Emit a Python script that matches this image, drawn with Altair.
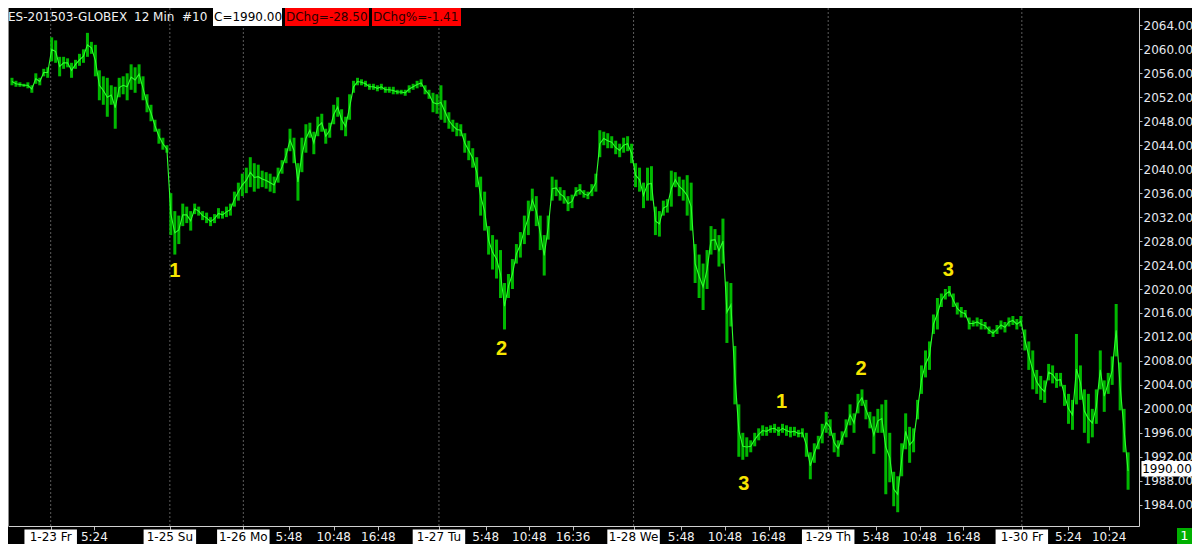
import altair as alt
import pandas as pd

high = [2055.25, 2054.75, 2054.5, 2054.25, 2054.5, 2054.0, 2056.0, 2055.25, 2056.75, 2057.0,
        2062.0, 2061.5, 2058.75, 2058.75, 2058.5, 2057.75, 2058.25, 2059.25, 2060.0, 2062.75,
        2061.25, 2060.75, 2056.5, 2055.5, 2055.25, 2054.0, 2053.75, 2055.25, 2055.5, 2056.0,
        2057.5, 2057.0, 2057.5, 2055.5, 2052.5, 2050.75, 2048.25, 2046.75, 2045.25, 2044.0,
        2036.0, 2033.0, 2032.25, 2034.25, 2033.75, 2033.0, 2034.25, 2033.75, 2033.0, 2032.75,
        2032.0, 2032.5, 2033.5, 2033.0, 2033.75, 2034.25, 2036.25, 2037.75, 2039.25, 2040.25,
        2042.0, 2041.0, 2040.75, 2039.75, 2039.5, 2039.25, 2038.75, 2040.25, 2041.5, 2043.5,
        2046.75, 2045.25, 2041.0, 2045.25, 2047.5, 2047.75, 2046.25, 2048.75, 2049.25, 2046.75,
        2047.75, 2050.75, 2052.0, 2050.0, 2048.75, 2052.5, 2054.75, 2055.25, 2055.0, 2054.75,
        2054.25, 2054.25, 2054.0, 2054.25, 2053.75, 2053.75, 2053.75, 2053.25, 2053.25, 2053.25,
        2054.0, 2054.25, 2054.75, 2055.0, 2054.0, 2053.25, 2052.75, 2052.5, 2054.0, 2051.5,
        2049.5, 2048.25, 2047.75, 2047.5, 2046.0, 2044.75, 2043.5, 2042.0, 2038.75, 2036.25,
        2030.5, 2029.0, 2028.25, 2026.5, 2021.0, 2022.5, 2025.0, 2027.5, 2029.5, 2032.25,
        2034.75, 2036.75, 2035.5, 2032.25, 2029.0, 2032.25, 2038.75, 2038.25, 2037.0, 2036.5,
        2035.5, 2035.75, 2037.0, 2037.5, 2036.5, 2036.25, 2037.5, 2039.25, 2046.5, 2046.25,
        2046.0, 2045.5, 2044.75, 2044.25, 2045.25, 2045.5, 2044.25, 2041.0, 2040.25, 2037.75,
        2040.25, 2040.5, 2033.75, 2033.0, 2034.75, 2035.0, 2039.75, 2039.5, 2038.75, 2038.25,
        2039.0, 2037.75, 2027.5, 2025.75, 2024.25, 2026.5, 2030.5, 2030.0, 2029.0, 2031.75,
        2021.25, 2021.0, 2010.5, 2000.75, 1996.0, 1995.25, 1994.75, 1996.0, 1996.75, 1997.25,
        1997.0, 1997.25, 1997.5, 1997.0, 1997.5, 1997.25, 1997.0, 1997.0, 1996.5, 1996.75,
        1996.0, 1992.75, 1994.25, 1995.5, 1997.5, 1999.5, 1998.25, 1996.0, 1994.75, 1996.25,
        1998.25, 2000.75, 1999.25, 2002.5, 2003.25, 2001.5, 1999.5, 1998.75, 2000.0, 2000.75,
        2001.5, 1996.0, 1989.5, 1988.75, 1994.25, 1999.25, 1997.0, 1996.75, 2001.5, 2007.25,
        2009.75, 2011.25, 2015.75, 2018.5, 2019.25, 2020.0, 2020.5, 2019.25, 2017.75, 2017.0,
        2016.5, 2015.25, 2014.75, 2015.25, 2015.0, 2014.5, 2013.75, 2013.25, 2014.0, 2014.75,
        2014.5, 2015.25, 2015.5, 2015.0, 2015.5, 2013.25, 2011.25, 2009.75, 2006.5, 2005.5,
        2004.75, 2007.5, 2007.25, 2006.0, 2006.0, 2004.0, 2002.5, 2001.5, 2012.5, 2007.25,
        2003.25, 2002.5, 2000.0, 2003.25, 2009.75, 2004.75, 2006.0, 2008.75, 2017.5, 2007.75,
        2000.0, 1992.75]
low = [2054.0, 2053.75, 2053.75, 2053.75, 2053.5, 2052.75, 2054.25, 2054.0, 2055.5, 2055.25,
       2058.0, 2057.75, 2055.5, 2056.75, 2057.0, 2055.25, 2056.75, 2057.25, 2057.75, 2058.75,
       2059.25, 2055.5, 2051.5, 2050.75, 2048.75, 2050.75, 2046.75, 2052.0, 2052.5, 2051.5,
       2053.25, 2052.75, 2054.25, 2051.5, 2049.5, 2048.0, 2046.25, 2044.25, 2043.25, 2042.75,
       2029.0, 2025.75, 2027.5, 2030.5, 2031.0, 2029.75, 2032.5, 2032.25, 2031.5, 2031.0,
       2030.5, 2031.0, 2031.75, 2031.75, 2032.0, 2032.25, 2033.75, 2034.75, 2035.5, 2036.0,
       2037.0, 2036.25, 2036.75, 2037.0, 2036.75, 2036.25, 2036.0, 2037.75, 2039.25, 2041.0,
       2043.0, 2041.0, 2034.75, 2039.5, 2042.75, 2045.25, 2042.5, 2045.5, 2046.25, 2044.25,
       2045.25, 2047.5, 2048.75, 2046.5, 2045.5, 2048.25, 2052.75, 2054.0, 2054.0, 2053.75,
       2053.25, 2053.25, 2053.0, 2053.25, 2052.75, 2052.75, 2052.5, 2052.5, 2052.5, 2052.25,
       2052.75, 2053.25, 2053.5, 2053.75, 2052.5, 2051.75, 2049.5, 2049.25, 2048.25, 2047.75,
       2046.75, 2046.25, 2045.5, 2045.5, 2042.75, 2041.5, 2040.25, 2037.0, 2032.25, 2029.75,
       2025.75, 2023.25, 2021.75, 2018.5, 2013.25, 2018.5, 2020.0, 2024.25, 2025.25, 2027.5,
       2029.0, 2033.0, 2030.5, 2026.5, 2022.25, 2028.25, 2034.75, 2035.5, 2034.75, 2034.25,
       2033.0, 2033.5, 2035.5, 2035.75, 2035.25, 2035.0, 2035.5, 2036.25, 2042.0, 2044.0,
       2043.5, 2043.5, 2042.5, 2042.0, 2042.75, 2043.0, 2041.0, 2037.0, 2036.25, 2033.5,
       2034.75, 2034.75, 2029.0, 2028.75, 2032.25, 2032.75, 2033.75, 2037.0, 2035.5, 2034.75,
       2032.25, 2029.75, 2021.0, 2018.5, 2016.5, 2020.0, 2025.75, 2026.5, 2023.75, 2024.25,
       2011.0, 2013.75, 2000.75, 1992.0, 1991.5, 1992.0, 1992.75, 1993.75, 1994.75, 1995.5,
       1995.5, 1996.0, 1996.0, 1995.5, 1996.0, 1995.5, 1995.25, 1995.5, 1995.25, 1995.25,
       1992.0, 1988.25, 1991.0, 1993.25, 1994.25, 1996.0, 1995.5, 1992.75, 1992.0, 1994.0,
       1995.25, 1997.25, 1996.0, 1999.25, 2000.5, 1998.25, 1996.75, 1992.5, 1996.0, 1996.0,
       1985.75, 1987.75, 1983.75, 1982.75, 1988.75, 1993.25, 1991.0, 1992.75, 1998.25, 2002.5,
       2005.25, 2006.5, 2012.5, 2013.25, 2017.0, 2018.25, 2018.75, 2017.0, 2015.75, 2015.25,
       2015.25, 2013.25, 2013.75, 2013.75, 2013.25, 2013.25, 2012.5, 2012.0, 2012.5, 2013.25,
       2012.75, 2013.75, 2014.0, 2013.25, 2013.75, 2009.75, 2006.5, 2003.25, 2002.5, 2001.5,
       2001.0, 2004.75, 2004.25, 2003.5, 2003.75, 2000.5, 1997.5, 1996.5, 2000.75, 2001.5,
       1996.0, 1994.25, 1995.25, 1997.5, 2003.25, 1999.5, 2002.5, 2004.0, 2008.75, 1999.75,
       1992.75, 1986.5]

# bottom axis labels (position given in bar index)
tick_bar = [9.75, 20.75, 39.75, 58.25, 69.75, 81, 92.25, 107.5, 119.25, 130.25, 141.25,
            156.5, 168.5, 179.5, 190.5, 205.5, 217.5, 228.5, 239.5, 254.25, 266, 276.25]
tick_text = ["1-23 Fr", "5:24", "1-25 Su", "1-26 Mo", "5:48", "10:48", "16:48", "1-27 Tu",
             "5:48", "10:48", "16:36", "1-28 We", "5:48", "10:48", "16:48", "1-29 Th",
             "5:48", "10:48", "16:48", "1-30 Fr", "5:24", "10:24"]

# wave count annotations
wave_text = ["1", "2", "3", "1", "2", "3"]
wave_bar = [41, 123.25, 184.25, 193.75, 213.75, 235.75]
wave_price = [2023.0, 2010.0, 1987.4, 2001.1, 2006.6, 2023.1]

y_ticks = list(range(1984, 2065, 4))
last_close = 1990.00
dchg = -28.50
dchg_pct = -1.41

# ---- frames ----
bars_df = pd.DataFrame({"bar": list(range(len(high))), "high": high, "low": low})
ticks_df = pd.DataFrame({"bar": tick_bar, "label": tick_text,
                         "is_date": ["-" in t for t in tick_text]})
dates_df = ticks_df[ticks_df["is_date"]]
times_df = ticks_df[~ticks_df["is_date"]]
wave_df = pd.DataFrame({"bar": wave_bar, "price": wave_price, "label": wave_text})

W, H = 1131, 518
FONT = "DejaVu Sans"
xs = alt.Scale(domain=[-1, 283.75], nice=False, zero=False)
ys = alt.Scale(domain=[1980.45, 2066.9], nice=False, zero=False)

x_axis = alt.Axis(orient="bottom", values=tick_bar, labels=False, ticks=True, tickSize=4,
                  tickColor="#bdbdbd", domainColor="#d0d0d0", domainWidth=1, grid=False,
                  title=None)
y_axis = alt.Axis(orient="right", values=y_ticks, format=".2f", labelColor="#e4e8ee",
                  labelFont=FONT, labelFontSize=12, tickSize=3, tickColor="#bdbdbd",
                  labelPadding=1, domainColor="#d0d0d0", grid=False, title=None)


def X(field="bar"):
    return alt.X(f"{field}:Q", scale=xs, axis=x_axis)


def Y(field):
    return alt.Y(f"{field}:Q", scale=ys, axis=y_axis)


separators = alt.Chart(dates_df).mark_rule(color="#5c5c5c", strokeWidth=1,
                                           strokeDash=[2, 2]).encode(x=X())

left_edge = alt.Chart(pd.DataFrame({"t": [0]})).mark_rule(color="#8c8c8c", strokeWidth=1).encode(
    x=alt.value(0.5), y=alt.value(0), y2=alt.value(H))

bars = alt.Chart(bars_df).mark_rule(strokeWidth=3.0, color="#00b800").encode(
    x=X(), y=Y("low"), y2="high:Q")

mid = alt.Chart(bars_df).transform_calculate(mid="(datum.high + datum.low) / 2").mark_line(
    color="#2cff2c", strokeWidth=1.1).encode(x=X(), y=Y("mid"))

waves = alt.Chart(wave_df).mark_text(font="Liberation Sans", fontSize=20, fontWeight="bold",
                                     color="#f7e600", baseline="middle", align="center").encode(
    x=X(), y=Y("price"), text="label:N")

# bottom labels
date_boxes = alt.Chart(dates_df).mark_point(shape="M-3.5,-1H3.5V1H-3.5Z", size=225, filled=True,
                                            color="#ffffff", opacity=1).encode(
    x=X(), y=alt.value(H + 11))
date_text = alt.Chart(dates_df).mark_text(font=FONT, fontSize=12, color="#000000",
                                          baseline="middle").encode(
    x=X(), y=alt.value(H + 11), text="label:N")
time_text = alt.Chart(times_df).mark_text(font=FONT, fontSize=12, color="#f2f2f2",
                                          baseline="middle").encode(
    x=X(), y=alt.value(H + 11), text="label:N")

# last price marker on the right axis
price_df = pd.DataFrame({"price": [last_close], "label": [f"{last_close:.2f}"]})
price_box = alt.Chart(price_df).mark_point(shape="M-3.3,-1H3.3V1H-3.3Z", size=240, filled=True,
                                           color="#ffffff", opacity=1).encode(
    x=alt.value(W + 28), y=Y("price"))
price_text = alt.Chart(price_df).mark_text(font=FONT, fontSize=12, color="#000000",
                                           baseline="middle", align="center").encode(
    x=alt.value(W + 28), y=Y("price"), text="label:N")

# header
hdr = pd.DataFrame({"t": [0]})


def htext(x, s, color):
    return alt.Chart(hdr).mark_text(font=FONT, fontSize=12, color=color, align="left",
                                    baseline="middle").encode(
        x=alt.value(x), y=alt.value(9), text=alt.value(s))


def hbox(x1, x2, color):
    return alt.Chart(hdr).mark_rect(color=color).encode(
        x=alt.value(x1), x2=alt.value(x2), y=alt.value(0), y2=alt.value(18))


header = [
    htext(0, "ES-201503-GLOBEX", "#f2f2f2"),
    htext(126, "12 Min", "#f2f2f2"),
    htext(174, "#10", "#f2f2f2"),
    hbox(205, 274, "#ffffff"),
    hbox(277, 361, "#ff0000"),
    hbox(364, 453, "#ff0000"),
    htext(206, f"C={last_close:.2f}", "#000000"),
    htext(278, f"DChg={dchg:.2f}", "#2a0000"),
    htext(365, f"DChg%={dchg_pct:.2f}", "#2a0000"),
]

# small green status box bottom right
box_g = alt.Chart(hdr).mark_rect(color="#00b000").encode(
    x=alt.value(W + 38), x2=alt.value(W + 53), y=alt.value(H + 2), y2=alt.value(H + 18))
txt_g = alt.Chart(hdr).mark_text(font=FONT, fontSize=13, color="#ffffff", align="center",
                                 baseline="middle").encode(
    x=alt.value(W + 45.5), y=alt.value(H + 10), text=alt.value("1"))

chart = alt.layer(
    separators, left_edge, bars, mid, waves, date_boxes, date_text, time_text, price_box,
    price_text, *header, box_g, txt_g
).properties(
    width=W, height=H,
    autosize=alt.AutoSizeParams(type="none"),
    padding={"left": 0, "top": 0, "right": 53, "bottom": 18},
    background="#000000",
).configure_view(stroke=None)

chart.save("out.html", embed_options={"renderer": "svg", "actions": False})
